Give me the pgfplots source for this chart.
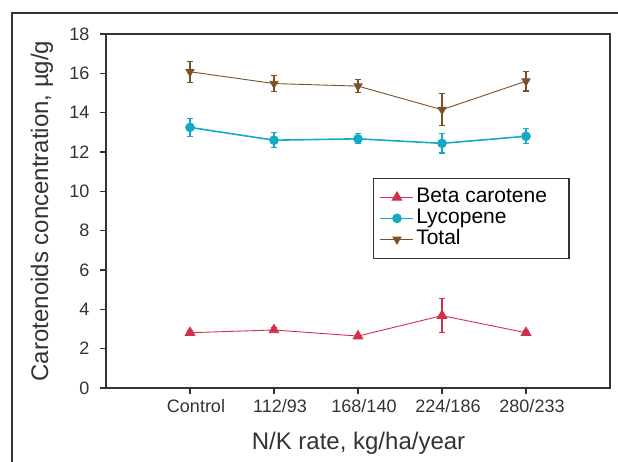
\documentclass[border=0pt]{standalone}
\usepackage{fontspec}
\setmainfont{Liberation Sans}
\usepackage{pgfplots}
\pgfplotsset{compat=1.18}

\definecolor{betaC}{HTML}{D22F4B}
\definecolor{lycoC}{HTML}{14AAC5}
\definecolor{totC}{HTML}{7A5126}
\definecolor{frameC}{HTML}{333333}

\begin{document}
\begin{tikzpicture}
  \useasboundingbox (0pt,0pt) rectangle (618pt,462pt);
  \draw[frameC, line width=1.6pt] (12pt,0pt) -- (12pt,449pt) -- (618pt,449pt);
  \begin{axis}[
    at={(106pt,74pt)}, anchor=south west,
    scale only axis, width=504pt, height=354pt,
    xmin=-1, xmax=5, ymin=0, ymax=18,
    xtick={0,1,2,3,4},
    xticklabels={Control,112/93,168/140,224/186,280/233},
    ytick={0,2,...,18},
    tick pos=left, tick align=outside,
    major tick length=6pt,
    axis line style={frameC, line width=1.3pt},
    tick style={frameC, line width=1.1pt},
    /pgf/number format/assume math mode=true,
    tick label style={font=\fontsize{18}{20}\selectfont, text=frameC},
    xticklabel style={xshift=6pt, yshift=-2pt},
    yticklabel style={xshift=-7pt},
    xlabel={N/K rate, kg/ha/year},
    ylabel={Carotenoids concentration, µg/g},
    label style={font=\fontsize{24}{26}\selectfont, text=frameC},
    every axis x label/.append style={at={(axis description cs:0.501,-0.155)}, anchor=center},
    every axis y label/.append style={at={(axis description cs:-0.127,0.5)}, anchor=center},
    legend style={at={(rel axis cs:0.530,0.593)}, anchor=north west,
      draw=frameC, line width=1.1pt, font=\fontsize{21}{22}\selectfont,
      row sep=1.5pt, inner xsep=6pt, inner ysep=9pt,
      nodes={inner ysep=0.5pt, text height=14.5pt, text depth=4pt}},
    legend cell align=left,
    legend image code/.code={
      \draw[#1] (0pt,0pt) -- (33pt,0pt);
      \draw[#1] plot coordinates {(16.5pt,0pt)};
    },
    error bars/y dir=both, error bars/y explicit,
    error bars/error mark options={rotate=90, mark size=3.4pt, line width=1.1pt},
    error bars/error bar style={line width=1.1pt},
  ]
    \addplot[betaC, line width=0.9pt, mark=triangle*, mark size=5.5pt,
      mark options={solid}] coordinates {
      (0,2.81) +- (0,0.1)
      (1,2.95) +- (0,0.1)
      (2,2.64) +- (0,0.1)
      (3,3.68) +- (0,0.85)
      (4,2.81) +- (0,0.1)
    };
    \addlegendentry{Beta carotene\hspace*{14pt}}
    \addplot[lycoC, line width=1.6pt, mark=*, mark size=4pt] coordinates {
      (0,13.25) +- (0,0.44)
      (1,12.60) +- (0,0.38)
      (2,12.67) +- (0,0.25)
      (3,12.44) +- (0,0.49)
      (4,12.80) +- (0,0.39)
    };
    \addlegendentry{Lycopene}
    \addplot[totC, line width=0.9pt, mark=triangle*, mark size=4.6pt,
      mark options={rotate=180}] coordinates {
      (0,16.08) +- (0,0.54)
      (1,15.48) +- (0,0.41)
      (2,15.35) +- (0,0.32)
      (3,14.15) +- (0,0.81)
      (4,15.60) +- (0,0.50)
    };
    \addlegendentry{Total}
  \end{axis}
\end{tikzpicture}
\end{document}
